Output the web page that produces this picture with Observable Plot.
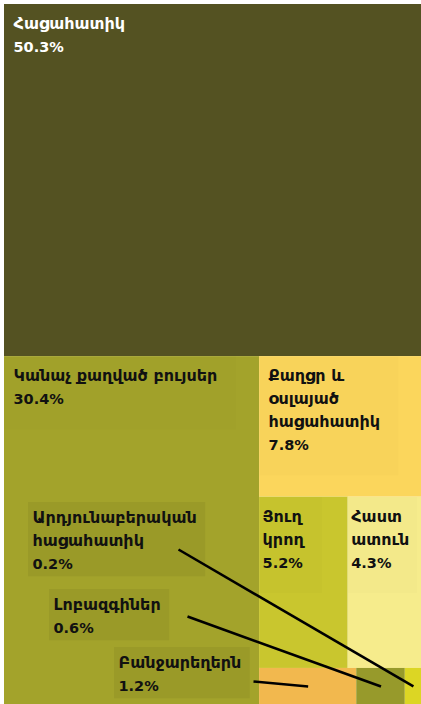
<!DOCTYPE html>
<html><head><meta charset="utf-8">
<script src="https://cdn.jsdelivr.net/npm/d3@7"></script>
<script src="https://cdn.jsdelivr.net/npm/@observablehq/plot@0.6"></script>
<style>
html,body{margin:0;padding:0;background:#fff;}
#chart{width:421px;height:704px;}
svg{display:block;}
</style></head><body><div id="chart"></div>
<script>
// ---- data ----
const categories = ["Հացահատիկ","Կանաչ քաղված բույսեր","Քաղցր և օսլայած հացահատիկ","Յուղ կրող","Հաստ ատուն","Բանջարեղերն","Լոբազգիներ","Արդյունաբերական հացահատիկ"];
const shares = [50.3, 30.4, 7.8, 5.2, 4.3, 1.2, 0.6, 0.2];

// ---- styles ----
const colors = ["#545222","#a3a32b","#fbd65c","#c9c62e","#f6ec8c","#f2b84e","#979a2b","#dcd624"];
const FONT = "DejaVu Sans";
const FS_NAME = 16, FS_PCT = 14.5, STEP = 23;

// ---- layout ----
const WIDTH = 421, HEIGHT = 704, OX = 4, OY = 4;
const W = WIDTH - OX, H = HEIGHT - OY;

const root = d3.treemap().size([W, H]).tile(d3.treemapSquarify)(
  d3.hierarchy({children: categories.map((name, i) => ({name, value: shares[i]}))})
    .sum(d => d.value ?? 0)
);
const tiles = root.leaves().map(l => ({
  name: l.data.name, share: l.data.value,
  x0: l.x0, x1: l.x1, y0: l.y0, y1: l.y1,
  cx: (l.x0 + l.x1) / 2, cy: (l.y0 + l.y1) / 2
}));

const ctx = document.createElement("canvas").getContext("2d");
const mw = (s, fs) => { ctx.font = `bold ${fs}px "${FONT}"`; return ctx.measureText(s).width; };
function wrap(text, maxW) {
  const words = text.split(" "), lines = [];
  let cur = "";
  for (const w of words) {
    const t = cur ? cur + " " + w : w;
    if (cur && mw(t, FS_NAME) > maxW) { lines.push(cur); cur = w; } else cur = t;
  }
  if (cur) lines.push(cur);
  return lines;
}

const fmt = v => v.toFixed(1) + "%";
const baseOff = 0.71 * STEP;   // first baseline offset below anchor

const kan = tiles[1];
// callout anchors, relative to the big left tile's bottom-left corner
const calloutOffsets = {
  "Արդյունաբերական հացահատիկ": {lx: 28, ly: 198, sx: 174, sy: 155},
  "Լոբազգիներ": {lx: 49, ly: 111, sx: 183, sy: 88},
  "Բանջարեղերն": {lx: 114, ly: 53, sx: 249, sy: 23}
};

const names = [], pcts = [], boxes = [], links = [];
function addLabel(x, y, lines, pct, dark) {
  names.push({x, y, text: lines.join("\n"), dark});
  pcts.push({x, y: y + lines.length * STEP, text: pct, dark});
  const tw = Math.max(d3.max(lines, s => mw(s, FS_NAME)), mw(pct, FS_PCT));
  const lastBase = y + baseOff + lines.length * STEP;
  return {tw, lastBase};
}
for (const t of tiles) {
  const w = t.x1 - t.x0, h = t.y1 - t.y0;
  const dark = d3.lab(colors[categories.indexOf(t.name)]).l < 50;
  if (h > 60) {
    const pad = w < 100 ? 3 : 9;
    const lines = wrap(t.name, w - 30);
    const x = t.x0 + pad, y = t.y0 + 8;
    const {tw, lastBase} = addLabel(x, y, lines, fmt(t.share), dark);
    boxes.push({x1: t.x0, x2: Math.min(x + tw + 19, t.x1 - 4), y1: t.y0, y2: Math.min(lastBase + 26, t.y1 - 6), o: dark ? 0 : 0.012});
  } else {
    const c = calloutOffsets[t.name];
    const lines = wrap(t.name, 185);
    const x = kan.x0 + c.lx, y = kan.y1 - c.ly;
    const {tw, lastBase} = addLabel(x, y, lines, fmt(t.share), false);
    boxes.push({x1: x - 4, x2: x + tw + 9, y1: y - 4, y2: lastBase + 8, o: 0.05});
    links.push({x1: kan.x0 + c.sx, y1: kan.y1 - c.sy, x2: t.cx, y2: t.cy});
  }
}

const base = {x: "x", y: "y", text: "text", textAnchor: "start", lineAnchor: "top", fontWeight: "bold", fontFamily: FONT};
const nameOpts = {...base, fontSize: FS_NAME, lineHeight: STEP / FS_NAME};
const pctOpts = {...base, fontSize: FS_PCT, lineHeight: STEP / FS_PCT};

const chart = Plot.plot({
  width: WIDTH, height: HEIGHT,
  marginLeft: 0, marginRight: 0, marginTop: 0, marginBottom: 0,
  x: {domain: [0, W], range: [OX, WIDTH], axis: null},
  y: {domain: [0, H], range: [OY, HEIGHT], axis: null},
  color: {domain: categories, range: colors},
  style: {background: "#fff"},
  marks: [
    Plot.rect(tiles, {x1: "x0", x2: "x1", y1: "y0", y2: "y1", fill: "name"}),
    Plot.rect(boxes, {x1: "x1", x2: "x2", y1: "y1", y2: "y2", fill: "#000", fillOpacity: d => d.o}),
    Plot.link(links, {x1: "x1", y1: "y1", x2: "x2", y2: "y2", stroke: "#000", strokeWidth: 2.6}),
    Plot.text(names.filter(d => d.dark), {...nameOpts, fill: "#fff"}),
    Plot.text(names.filter(d => !d.dark), {...nameOpts, fill: "#111"}),
    Plot.text(pcts.filter(d => d.dark), {...pctOpts, fill: "#fff"}),
    Plot.text(pcts.filter(d => !d.dark), {...pctOpts, fill: "#111"})
  ]
});
document.getElementById("chart").appendChild(chart);
</script>
</body></html>
